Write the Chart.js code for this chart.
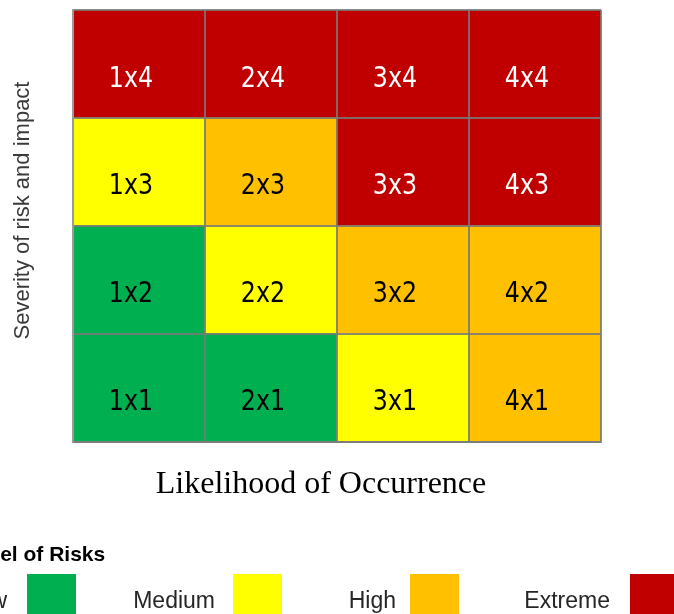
<!DOCTYPE html>
<html><head><meta charset="utf-8">
<script src="https://cdn.jsdelivr.net/npm/chart.js@4/dist/chart.umd.min.js"></script>
<style>html,body{margin:0;padding:0;background:#fff;overflow:hidden}#wrap{width:674px;height:614px}</style>
</head><body><div id="wrap"><canvas id="c" width="674" height="614"></canvas></div>
<script>
// ---- data ----
const likelihood = ['1', '2', '3', '4'];
const severity = ['1', '2', '3', '4'];
const riskLevels = ['Low', 'Medium', 'High', 'Extreme'];
const riskColors = ['#00B050', '#FFFF00', '#FFC000', '#C00000'];
const labelColors = ['#000000', '#000000', '#000000', '#FFFFFF'];
// risk level (index into riskLevels) of each cell, one list per severity row, by likelihood 1..4
const severity1 = [0, 0, 1, 2];
const severity2 = [0, 1, 2, 2];
const severity3 = [1, 2, 3, 3];
const severity4 = [3, 3, 3, 3];
const cellSpan = [1, 1, 1, 1];
const yTitle = 'Severity of risk and impact';
const xTitle = 'Likelihood of Occurrence';
const legendTitle = 'Level of Risks';

const rows = [severity1, severity2, severity3, severity4];
const datasets = rows.map((r, i) => ({
  label: 'Severity ' + severity[i],
  data: cellSpan,
  levels: r,
  backgroundColor: r.map(k => riskColors[k]),
  borderWidth: 0,
  barPercentage: 1,
  categoryPercentage: 1
}));

const cellLabels = {
  id: 'cellLabels',
  afterDraw(chart) {
    const ctx = chart.ctx;
    ctx.save();
    ctx.font = '27px "DejaVu Sans", sans-serif';
    ctx.textAlign = 'center';
    ctx.textBaseline = 'middle';
    chart.data.datasets.forEach((ds, di) => {
      const meta = chart.getDatasetMeta(di);
      meta.data.forEach((bar, j) => {
        const p = bar.getProps(['x', 'y', 'base'], true);
        const cy = (p.y + p.base) / 2;
        ctx.fillStyle = labelColors[ds.levels[j]];
        ctx.save();
        ctx.translate(p.x - 8, cy + 15);
        ctx.scale(0.88, 1.08);
        ctx.fillText(likelihood[j] + 'x' + severity[di], 0, 0);
        ctx.restore();
      });
    });
    ctx.restore();
  }
};

const riskLegend = {
  id: 'riskLegend',
  afterDraw(chart) {
    const ctx = chart.ctx;
    ctx.save();
    ctx.textBaseline = 'alphabetic';
    ctx.fillStyle = '#000';
    ctx.font = 'bold 21px "Liberation Sans", Arial, sans-serif';
    ctx.textAlign = 'left';
    ctx.fillText(legendTitle, -36, 561);
    const textRight = [7, 215, 396, 610];
    const boxX = [27, 233, 410, 630];
    ctx.font = '23px "Liberation Sans", Arial, sans-serif';
    riskLevels.forEach((lv, i) => {
      ctx.fillStyle = '#262626';
      ctx.textAlign = 'right';
      ctx.fillText(lv, textRight[i], 608);
      ctx.fillStyle = riskColors[i];
      ctx.fillRect(boxX[i], 574, 49, 60);
    });
    ctx.restore();
  }
};

const gridColor = 'rgba(120,120,120,0.85)';

new Chart(document.getElementById('c'), {
  type: 'bar',
  data: { labels: likelihood, datasets },
  plugins: [cellLabels, riskLegend],
  options: {
    responsive: false,
    animation: false,
    devicePixelRatio: 1,
    layout: { padding: { left: 6, top: 10, right: 73, bottom: 110.4 } },
    plugins: { legend: { display: false }, tooltip: { enabled: false } },
    scales: {
      x: {
        stacked: true,
        ticks: { display: false },
        grid: { display: true, offset: true, color: gridColor, drawTicks: false, lineWidth: 2, z: 1 },
        border: { display: true, color: '#9a9a9a', width: 2, z: 1 },
        title: {
          display: true, text: xTitle + '    ', color: '#000',
          font: { family: '"Liberation Serif", "Times New Roman", serif', size: 32, weight: 'normal' },
          padding: { top: 23.6, bottom: 0 }
        }
      },
      y: {
        stacked: true,
        min: 0, max: 4,
        ticks: { display: false, stepSize: 1 },
        grid: { display: true, color: gridColor, drawTicks: false, lineWidth: 2, z: 1 },
        border: { display: true, color: '#9a9a9a', width: 2, z: 1 },
        title: {
          display: true, text: '     ' + yTitle, color: '#3a3a3a',
          font: { family: '"Liberation Sans", Arial, sans-serif', size: 22, weight: 'normal' },
          padding: { top: 4, bottom: 36.6 }
        }
      }
    }
  }
});
</script>
</body></html>
